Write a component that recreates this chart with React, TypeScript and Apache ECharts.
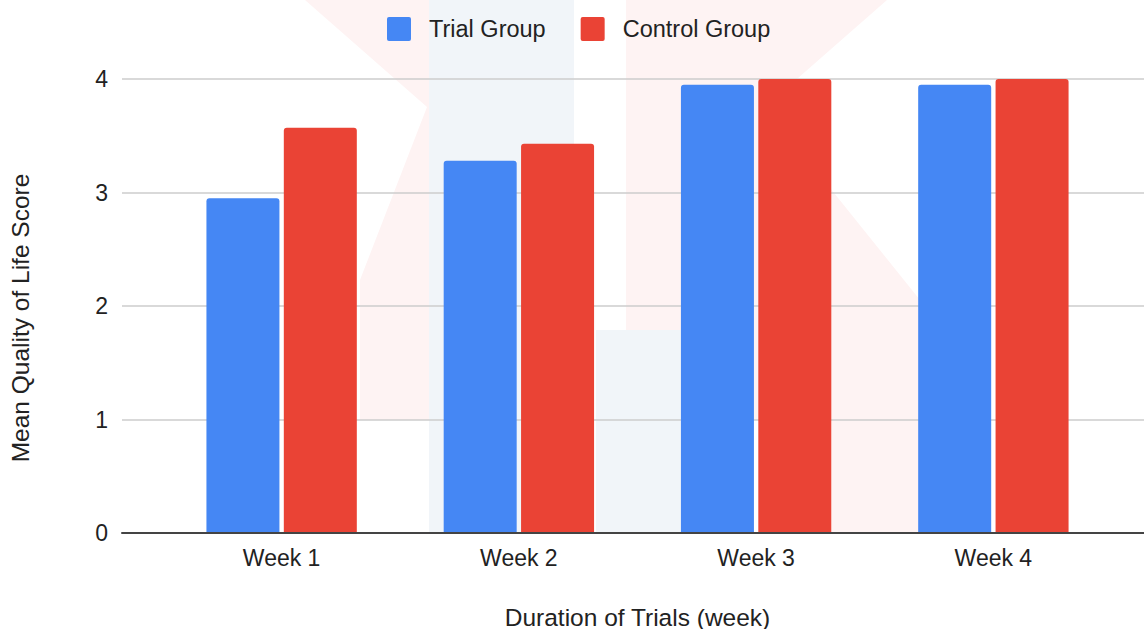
import React, { useEffect, useRef } from "react";
import * as echarts from "echarts";

const categories = ["Week 1", "Week 2", "Week 3", "Week 4"];
const trialGroup = [2.95, 3.28, 3.95, 3.95];
const controlGroup = [3.57, 3.43, 4.0, 4.0];
const yMin = 0;
const yMax = 4;
const yInterval = 1;
const seriesNames = ["Trial Group", "Control Group"];
const xAxisTitle = "Duration of Trials (week)";
const yAxisTitle = "Mean Quality of Life Score";

const FONT = "'Liberation Sans', Arial, sans-serif";
const BLUE = "#4587F4";
const RED = "#EA4335";
const PINK = "#fef3f3";
const LIGHTBLUE = "#f1f5f9";
const ICON = "path://M2,0 H22 A2,2 0 0 1 24,2 V22 A2,2 0 0 1 22,24 H2 A2,2 0 0 1 0,22 V2 A2,2 0 0 1 2,0 Z";

export default function App() {
  const ref = useRef<HTMLDivElement>(null);
  useEffect(() => {
    if (!ref.current) return;
    const chart = echarts.init(ref.current, undefined, { renderer: "svg" });
    const option: any = {
      animation: false,
      backgroundColor: "#ffffff",
      textStyle: { fontFamily: FONT },
      legend: {
        data: seriesNames.map((n) => ({ name: n, icon: ICON })),
        left: 382,
        top: 12,
        itemWidth: 24,
        itemHeight: 24,
        itemGap: 35,
        textStyle: { fontSize: 23.5, color: "#222", fontFamily: FONT, padding: [0, 0, 0, 13] },
      },
      graphic: [
        {
          type: "polygon",
          z: -100,
          silent: true,
          shape: { points: [[305, 0], [566, 0], [566, 420], [360, 420], [360, 280], [427, 107]] },
          style: { fill: PINK },
        },
        {
          type: "polygon",
          z: -100,
          silent: true,
          shape: { points: [[626, 0], [887, 0], [765, 107], [920, 300], [920, 533], [832, 533], [832, 420], [626, 420]] },
          style: { fill: PINK },
        },
        {
          type: "rect",
          z: -99,
          silent: true,
          shape: { x: 429, y: 0, width: 145, height: 533 },
          style: { fill: LIGHTBLUE },
        },
        {
          type: "rect",
          z: -99,
          silent: true,
          shape: { x: 596, y: 330, width: 88, height: 203 },
          style: { fill: LIGHTBLUE },
        },
        {
          type: "text",
          x: 20,
          y: 318,
          rotation: Math.PI / 2,
          style: {
            text: yAxisTitle,
            fontSize: 24.5,
            fontFamily: FONT,
            fill: "#222",
            align: "center",
            verticalAlign: "middle",
          },
        },
      ],
      grid: [
        { left: 122, right: 0, top: 79, bottom: 96, outerBoundsMode: "none", containLabel: false },
        { left: 163, width: 949, top: 79, bottom: 96, outerBoundsMode: "none", containLabel: false },
      ],
      xAxis: [
        {
          type: "value",
          gridIndex: 0,
          min: 0,
          max: 1,
          z: 5,
          axisLine: { show: true, onZero: false, lineStyle: { color: "#444", width: 2 } },
          axisTick: { show: false },
          axisLabel: { show: false },
          splitLine: { show: false },
        },
        {
          type: "category",
          gridIndex: 1,
          data: categories,
          axisLine: { show: false, onZero: false },
          axisTick: { show: false },
          axisLabel: { fontSize: 23, color: "#222", margin: 13, fontFamily: FONT },
          name: xAxisTitle,
          nameLocation: "middle",
          nameGap: 73,
          nameTextStyle: { fontSize: 24.5, lineHeight: 22, color: "#222", fontFamily: FONT },
        },
      ],
      yAxis: [
        {
          type: "value",
          gridIndex: 0,
          min: yMin,
          max: yMax,
          interval: yInterval,
          axisLine: { show: false },
          axisTick: { show: false },
          axisLabel: { fontSize: 23, color: "#222", margin: 14, fontFamily: FONT },
          splitLine: { lineStyle: { color: "#cccccc", width: 1.5 } },
        },
        {
          type: "value",
          gridIndex: 1,
          min: yMin,
          max: yMax,
          interval: yInterval,
          show: false,
        },
      ],
      series: [
        {
          name: seriesNames[0],
          type: "bar",
          xAxisIndex: 1,
          yAxisIndex: 1,
          data: trialGroup,
          barWidth: 73,
          barGap: "6%",
          itemStyle: { color: BLUE, borderRadius: [3, 3, 0, 0] },
        },
        {
          name: seriesNames[1],
          type: "bar",
          xAxisIndex: 1,
          yAxisIndex: 1,
          data: controlGroup,
          barWidth: 73,
          barGap: "6%",
          itemStyle: { color: RED, borderRadius: [3, 3, 0, 0] },
        },
      ],
    };
    chart.setOption(option);
    return () => chart.dispose();
  }, []);
  return (
    <div
      ref={ref}
      style={{ position: "fixed", left: 0, top: 0, width: 1144, height: 629 }}
    />
  );
}
